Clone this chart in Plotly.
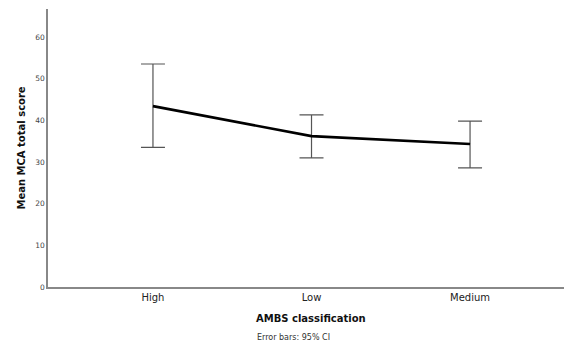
import plotly.graph_objects as go

categories = ["High", "Low", "Medium"]
means = [43.4, 36.2, 34.3]
ci_upper = [53.5, 41.3, 39.8]
ci_lower = [33.5, 31.0, 28.6]
y_ticks = [0, 10, 20, 30, 40, 50, 60]

err_plus = [u - m for u, m in zip(ci_upper, means)]
err_minus = [m - l for m, l in zip(means, ci_lower)]

font_family = "DejaVu Sans"
OFF = 8  # page body margin
W, H = 572 - OFF, 343 - OFF
L, T, PW, PH = 48 - OFF, 9 - OFF, 524, 278

def px_x(x):
    return (x - OFF - L) / PW

def px_y(y):
    return (T + PH - (y - OFF)) / PH

fig = go.Figure()
fig.add_trace(go.Scatter(
    x=[0, 1, 2], y=means, mode="lines",
    line=dict(color="black", width=2.6),
    error_y=dict(type="data", symmetric=False, array=err_plus, arrayminus=err_minus,
                 color="#555555", thickness=1.2, width=12),
    hoverinfo="skip", showlegend=False,
))

fig.update_layout(
    width=W, height=H,
    margin=dict(l=L, r=0, t=T, b=H - T - PH, autoexpand=False),
    paper_bgcolor="white", plot_bgcolor="white",
    font=dict(family=font_family, color="#222222"),
    xaxis=dict(
        range=[-0.662, 2.643], tickvals=[0, 1, 2], ticktext=categories, automargin=False,
        showgrid=False, zeroline=False, showline=True, linecolor="#888888", linewidth=1.5,
        ticks="", tickfont=dict(size=10, color="#222222"),
    ),
    yaxis=dict(
        range=[0, 66.7], tickvals=y_ticks, automargin=False,
        showgrid=False, zeroline=False, showline=True, linecolor="#888888", linewidth=1.5,
        ticks="", tickfont=dict(size=7.5, color="#444444"),
    ),
    annotations=[
        dict(text="<b>AMBS classification</b>", xref="paper", yref="paper",
             x=px_x(311), y=px_y(318), xanchor="center", yanchor="middle",
             showarrow=False, font=dict(size=10, color="#111111")),
        dict(text="<b>Mean MCA total score</b>", xref="paper", yref="paper",
             x=px_x(20.5), y=px_y(148), xanchor="center", yanchor="middle", textangle=-90,
             showarrow=False, font=dict(size=10, color="#111111")),
        dict(text="Error bars: 95% CI", xref="paper", yref="paper",
             x=px_x(255), y=px_y(337), xanchor="left", yanchor="middle",
             showarrow=False, font=dict(size=8, color="#333333")),
    ],
)

fig.write_html("out.html")
